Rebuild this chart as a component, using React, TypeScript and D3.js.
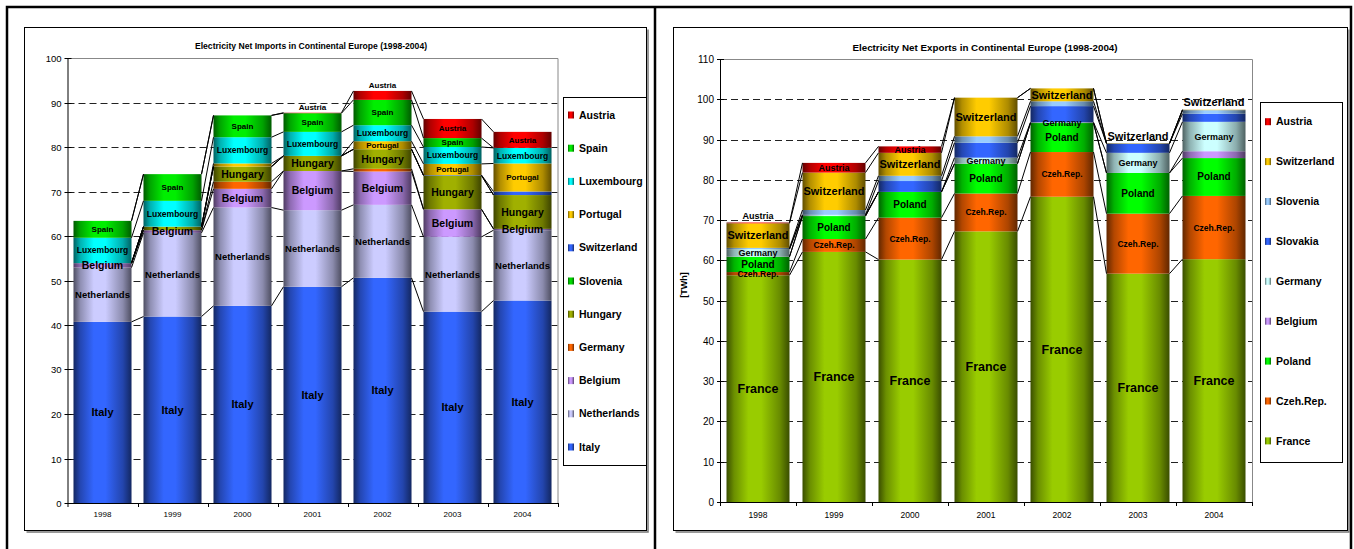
import React, { useRef, useEffect } from "react";
import * as d3 from "d3";

const years = ["1998", "1999", "2000", "2001", "2002", "2003", "2004"];

// Net imports (TWh), series bottom -> top
const impItaly = [40.7, 41.9, 44.3, 48.6, 50.6, 43.0, 45.5];
const impNetherlands = [12.2, 18.8, 22.1, 17.2, 16.4, 16.8, 15.8];
const impBelgium = [1.0, 0.6, 4.2, 8.8, 7.5, 6.2, 0.3];
const impGermany = [0, 0, 1.6, 0, 0.6, 0, 0];
const impHungary = [0, 0.8, 3.4, 3.4, 4.4, 7.6, 7.6];
const impSlovenia = [0, 0, 0, 0, 0, 0, 0];
const impSwitzerland = [0, 0, 0, 0, 0, 0.1, 0.8];
const impPortugal = [0, 0, 0.7, 0, 1.8, 2.5, 6.3];
const impLuxembourg = [5.7, 5.8, 5.9, 5.4, 3.6, 3.8, 3.5];
const impSpain = [3.8, 6.0, 4.9, 4.2, 5.7, 2.0, 0];
const impAustria = [0, 0, 0, 0.1, 2.0, 4.3, 3.6];

// Net exports (TWh), series bottom -> top
const expFrance = [56.3, 62.1, 60.2, 67.2, 75.8, 56.7, 60.3];
const expCzech = [0.8, 3.2, 10.4, 9.4, 11.1, 14.9, 15.7];
const expPoland = [3.8, 5.7, 6.4, 7.4, 7.2, 10.1, 9.4];
const expBelgium = [0, 0, 0, 0, 0, 0, 1.7];
const expGermany = [1.9, 0.3, 0, 1.5, 0.2, 5.0, 7.3];
const expSlovakia = [0, 0, 2.7, 3.7, 4.0, 2.3, 2.0];
const expSlovenia = [0.3, 1.2, 1.3, 1.6, 1.2, 0, 0.9];
const expSwitzerland = [6.1, 9.3, 5.7, 9.6, 3.2, 0.1, 0.1];
const expAustria = [0.2, 2.4, 1.6, 0, 0, 0, 0];

const importSeries = [
  { name: "Italy", values: impItaly, color: "#3366FF", font: 11, label: true },
  { name: "Netherlands", values: impNetherlands, color: "#CCCCFF", font: 9.5, label: true },
  { name: "Belgium", values: impBelgium, color: "#CC99FF", font: 10.5, label: true },
  { name: "Germany", values: impGermany, color: "#FF6600", font: 9, label: false },
  { name: "Hungary", values: impHungary, color: "#A0B000", font: 10.5, label: true },
  { name: "Slovenia", values: impSlovenia, color: "#00DD00", font: 9, label: false },
  { name: "Switzerland", values: impSwitzerland, color: "#3366FF", font: 9, label: false },
  { name: "Portugal", values: impPortugal, color: "#FFCC00", font: 8, label: true },
  { name: "Luxembourg", values: impLuxembourg, color: "#00FFFF", font: 8.5, label: true },
  { name: "Spain", values: impSpain, color: "#00EE00", font: 8, label: true },
  { name: "Austria", values: impAustria, color: "#FF0000", font: 8, label: true },
];

const exportSeries = [
  { name: "France", values: expFrance, color: "#99CC00", font: 12.5, label: true },
  { name: "Czeh.Rep.", values: expCzech, color: "#FF6600", font: 8.5, label: true },
  { name: "Poland", values: expPoland, color: "#00FF00", font: 10, label: true },
  { name: "Belgium", values: expBelgium, color: "#CC99FF", font: 9, label: false },
  { name: "Germany", values: expGermany, color: "#CCFFFF", font: 9, label: true },
  { name: "Slovakia", values: expSlovakia, color: "#3366FF", font: 9, label: false },
  { name: "Slovenia", values: expSlovenia, color: "#99CCFF", font: 9, label: false },
  { name: "Switzerland", values: expSwitzerland, color: "#FFCC00", font: 11, label: true },
  { name: "Austria", values: expAustria, color: "#FF0000", font: 9, label: true },
];

const importHidden = ["Hungary|1999", "Portugal|2000"];
const importAbove = ["Austria|2001", "Austria|2002"];
const exportHidden = ["Germany|1999"];
const exportAbove = ["Austria|1998", "Switzerland|2003", "Switzerland|2004"];

const FONT = "'Liberation Sans', Arial, sans-serif";

type Series = { name: string; values: number[]; color: string; font: number; label: boolean };

interface ChartCfg {
  id: string;
  title: string;
  titleX: number;
  titleY: number;
  titleSize: number;
  series: Series[];
  hidden: string[];
  above: string[];
  left: number;
  right: number;
  top: number;
  bottom: number;
  yMax: number;
  tickSize: number;
  catSize: number;
  catY: number;
  legend: { x: number; y: number; w: number; h: number; first: number; step: number; size: number };
  yTitle?: { text: string; x: number; y: number };
}

function drawChart(svg: d3.Selection<SVGSVGElement, unknown, null, undefined>, c: ChartCfg) {
  const defs = svg.select<SVGDefsElement>("defs");
  const g = svg.append("g");

  const x = d3.scaleBand<string>().domain(years).range([c.left, c.right]).paddingInner(0.171).paddingOuter(0.0855);
  const y = d3.scaleLinear().domain([0, c.yMax]).range([c.bottom, c.top]);

  // gradients
  c.series.forEach((s, si) => {
    const gid = `${c.id}-g${si}`;
    const lg = defs.append("linearGradient").attr("id", gid).attr("x1", "0").attr("x2", "1").attr("y1", "0").attr("y2", "0");
    const dk = (t: number) => d3.interpolateRgb(s.color, "#000")(t);
    [
      [0, 0.62],
      [0.12, 0.3],
      [0.35, 0],
      [0.55, 0],
      [0.85, 0.32],
      [1, 0.62],
    ].forEach(([o, t]) => lg.append("stop").attr("offset", o).attr("stop-color", dk(t)));
  });

  // gridlines
  const ticks = d3.range(0, c.yMax + 1, 10);
  ticks.forEach((t) => {
    if (t > 0 && t < c.yMax) {
      g.append("line")
        .attr("x1", c.left).attr("x2", c.right)
        .attr("y1", Math.round(y(t)) + 0.5).attr("y2", Math.round(y(t)) + 0.5)
        .attr("stroke", "#222").attr("stroke-width", 1).attr("stroke-dasharray", "7,4");
    }
  });
  // plot border top/right
  g.append("path")
    .attr("d", `M${c.left},${c.top + 0.5}H${c.right + 0.5}V${c.bottom}`)
    .attr("fill", "none").attr("stroke", "#888");

  // stacks
  const stacked = years.map((yr, i) => {
    let acc = 0;
    return c.series.map((s) => {
      const y0 = acc;
      acc += s.values[i];
      return { y0, y1: acc };
    });
  });

  years.forEach((yr, i) => {
    const bx = x(yr)!;
    c.series.forEach((s, si) => {
      const seg = stacked[i][si];
      if (s.values[i] <= 0) return;
      g.append("rect")
        .attr("x", bx).attr("width", x.bandwidth())
        .attr("y", y(seg.y1)).attr("height", y(seg.y0) - y(seg.y1))
        .attr("fill", `url(#${c.id}-g${si})`);
    });
  });

  // series lines
  for (let i = 0; i < years.length - 1; i++) {
    const xa = x(years[i])! + x.bandwidth();
    const xb = x(years[i + 1])!;
    c.series.forEach((s, si) => {
      g.append("line")
        .attr("x1", xa).attr("x2", xb)
        .attr("y1", y(stacked[i][si].y1)).attr("y2", y(stacked[i + 1][si].y1))
        .attr("stroke", "#000").attr("stroke-width", 1);
    });
  }

  // labels
  years.forEach((yr, i) => {
    const cx = x(yr)! + x.bandwidth() / 2;
    c.series.forEach((s, si) => {
      const key = `${s.name}|${yr}`;
      if (!s.label || s.values[i] <= 0 || c.hidden.includes(key)) return;
      const seg = stacked[i][si];
      const cy = c.above.includes(key) ? y(seg.y1) - s.font * 0.5 - 2 : (y(seg.y0) + y(seg.y1)) / 2;
      g.append("text")
        .attr("x", cx).attr("y", cy).attr("dy", "0.35em")
        .attr("text-anchor", "middle")
        .style("font-family", FONT).style("font-weight", "bold").style("font-size", `${s.font}px`)
        .style("fill", "#000")
        .text(s.name);
    });
  });

  // axes
  g.append("line").attr("x1", c.left + 0.5).attr("x2", c.left + 0.5).attr("y1", c.top).attr("y2", c.bottom + 4).attr("stroke", "#000");
  g.append("line").attr("x1", c.left).attr("x2", c.right + 0.5).attr("y1", c.bottom + 0.5).attr("y2", c.bottom + 0.5).attr("stroke", "#000");
  ticks.forEach((t) => {
    const ty = Math.round(y(t)) + 0.5;
    g.append("line").attr("x1", c.left - 3).attr("x2", c.left + 4).attr("y1", ty).attr("y2", ty).attr("stroke", "#000");
    g.append("text")
      .attr("x", c.left - 6).attr("y", ty).attr("dy", "0.35em").attr("text-anchor", "end")
      .style("font-family", FONT).style("font-size", `${c.tickSize}px`).style("fill", "#000")
      .text(t);
  });
  years.forEach((yr, i) => {
    const tx = Math.round(c.left + (x.step() * (i + 1))) + 0.5;
    g.append("line").attr("x1", tx).attr("x2", tx).attr("y1", c.bottom).attr("y2", c.bottom + 4).attr("stroke", "#000");
    g.append("text")
      .attr("x", x(yr)! + x.bandwidth() / 2).attr("y", c.catY).attr("text-anchor", "middle")
      .style("font-family", FONT).style("font-size", `${c.catSize}px`).style("fill", "#000")
      .text(yr);
  });

  if (c.yTitle) {
    g.append("text")
      .attr("transform", `translate(${c.yTitle.x},${c.yTitle.y}) rotate(-90)`)
      .attr("text-anchor", "middle")
      .style("font-family", FONT).style("font-weight", "bold").style("font-size", "9px")
      .text(c.yTitle.text);
  }

  // title
  g.append("text")
    .attr("x", c.titleX).attr("y", c.titleY).attr("text-anchor", "middle")
    .style("font-family", FONT).style("font-weight", "bold").style("font-size", `${c.titleSize}px`)
    .text(c.title);

  // legend
  const L = c.legend;
  g.append("rect").attr("x", L.x + 0.5).attr("y", L.y + 0.5).attr("width", L.w).attr("height", L.h)
    .attr("fill", "#fff").attr("stroke", "#000");
  const rev = [...c.series].reverse();
  rev.forEach((s, k) => {
    const si = c.series.length - 1 - k;
    const ly = L.first + k * L.step;
    g.append("rect").attr("x", L.x + 5).attr("y", ly - 3.5).attr("width", 6).attr("height", 7)
      .attr("fill", `url(#${c.id}-g${si})`);
    g.append("text")
      .attr("x", L.x + 16).attr("y", ly).attr("dy", "0.35em")
      .style("font-family", FONT).style("font-weight", "bold").style("font-size", `${L.size}px`)
      .text(s.name);
  });
}

export default function App() {
  const svgRef = useRef<SVGSVGElement>(null);

  useEffect(() => {
    if (!svgRef.current) return;
    const svg = d3.select(svgRef.current);
    svg.selectAll("*").remove();
    svg.append("defs");

    // page frame
    svg.append("rect").attr("width", 1354).attr("height", 549).attr("fill", "#fff");
    svg.append("path").attr("d", "M7,560V7H1351V560M655,7V560").attr("fill", "none").attr("stroke", "#000").attr("stroke-width", 2.5);

    // chart boxes with shadow
    [
      [24.5, 27.5, 622, 503],
      [673.5, 27.5, 674, 503],
    ].forEach(([bx, by, bw, bh]) => {
      svg.append("path").attr("d", `M${bx + bw + 1.5},${by + 2}V${by + bh + 1.5}H${bx + 2}`).attr("fill", "none").attr("stroke", "#777").attr("stroke-width", 1.5);
      svg.append("rect").attr("x", bx).attr("y", by).attr("width", bw).attr("height", bh).attr("fill", "#fff").attr("stroke", "#000");
    });

    drawChart(svg, {
      id: "imp",
      title: "Electricity Net Imports in Continental Europe (1998-2004)",
      titleX: 311, titleY: 49, titleSize: 8.6,
      series: importSeries,
      hidden: importHidden, above: importAbove,
      left: 67.5, right: 557.5, top: 58, bottom: 503, yMax: 100,
      tickSize: 9.5, catSize: 8, catY: 517,
      legend: { x: 563, y: 97, w: 83, h: 368, first: 115, step: 33.2, size: 10.5 },
    });

    drawChart(svg, {
      id: "exp",
      title: "Electricity Net Exports in Continental Europe (1998-2004)",
      titleX: 985, titleY: 51, titleSize: 9.8,
      series: exportSeries,
      hidden: exportHidden, above: exportAbove,
      left: 720, right: 1252, top: 59, bottom: 502, yMax: 110,
      tickSize: 10, catSize: 8.5, catY: 518,
      legend: { x: 1260, y: 102, w: 82, h: 360, first: 121.7, step: 39.9, size: 10.5 },
      yTitle: { text: "[TWh]", x: 687, y: 285 },
    });
  }, []);

  return (
    <div style={{ position: "absolute", left: 0, top: 0 }}>
      <svg ref={svgRef} width={1354} height={549} viewBox="0 0 1354 549" style={{ display: "block" }} />
    </div>
  );
}
